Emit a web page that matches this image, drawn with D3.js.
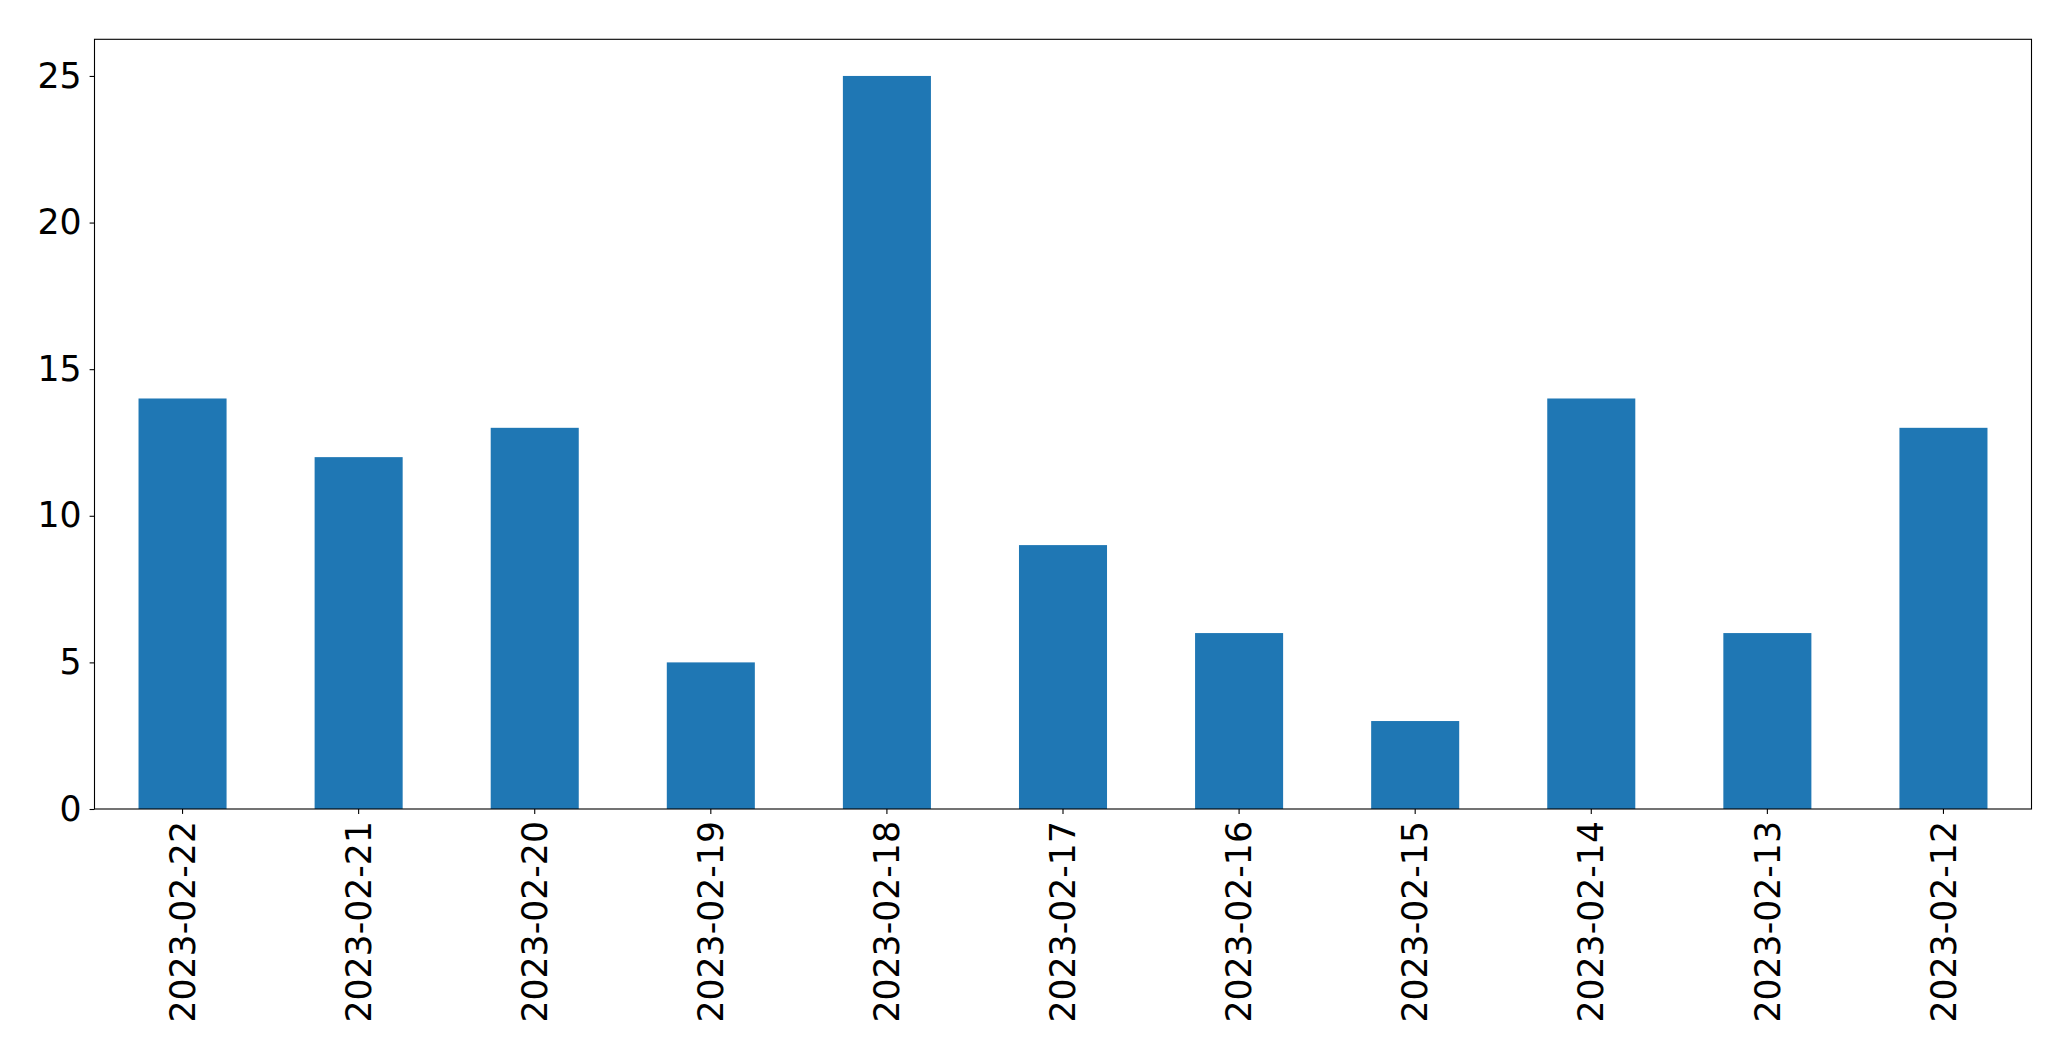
<!DOCTYPE html>
<html><head><meta charset="utf-8">
<script src="https://cdn.jsdelivr.net/npm/d3@7"></script>
<style>body{margin:0;background:#fff}svg{display:block}text{font-family:"DejaVu Sans",sans-serif}</style>
</head><body>
<script>
const categories = ["2023-02-22","2023-02-21","2023-02-20","2023-02-19","2023-02-18","2023-02-17","2023-02-16","2023-02-15","2023-02-14","2023-02-13","2023-02-12"];
const values = [14,12,13,5,25,9,6,3,14,6,13];
const yTicks = [0,5,10,15,20,25];

const W=2071,H=1061;
const L=94.5,R=2031.5,T=39.3,B=809;
const svg=d3.select("body").append("svg").attr("width",W).attr("height",H);
const x=d3.scaleBand().domain(categories).range([L,R]).paddingInner(0.5).paddingOuter(0.25);
const y=d3.scaleLinear().domain([0,26.25]).range([B,T]);

svg.append("g").selectAll("rect").data(values).join("rect")
 .attr("x",(d,i)=>x(categories[i])).attr("width",x.bandwidth())
 .attr("y",d=>y(d)).attr("height",d=>y(0)-y(d)).attr("fill","#1f77b4");

const fs=34.7;
const ya=svg.append("g").attr("transform",`translate(${L},0)`)
 .call(d3.axisLeft(y).tickValues(yTicks).tickSize(4.9).tickPadding(8).tickFormat(d3.format("d")));
ya.select(".domain").remove();
ya.selectAll("text").attr("font-size",fs).attr("font-family","DejaVu Sans").attr("fill","#000");
ya.selectAll("line").attr("stroke","#000").attr("stroke-width",1.1);

const xa=svg.append("g").attr("transform",`translate(0,${B})`)
 .call(d3.axisBottom(x).tickSize(4.9).tickPadding(0));
xa.select(".domain").remove();
xa.selectAll("line").attr("stroke","#000").attr("stroke-width",1.1);
xa.selectAll("text").attr("font-size",fs).attr("font-family","DejaVu Sans").attr("fill","#000")
 .attr("transform","rotate(-90)").attr("text-anchor","end").attr("x",-12).attr("y",0).attr("dy","0.35em");

svg.append("rect").attr("x",L).attr("y",T).attr("width",R-L).attr("height",B-T)
 .attr("fill","none").attr("stroke","#000").attr("stroke-width",1.1);
</script>
</body></html>
